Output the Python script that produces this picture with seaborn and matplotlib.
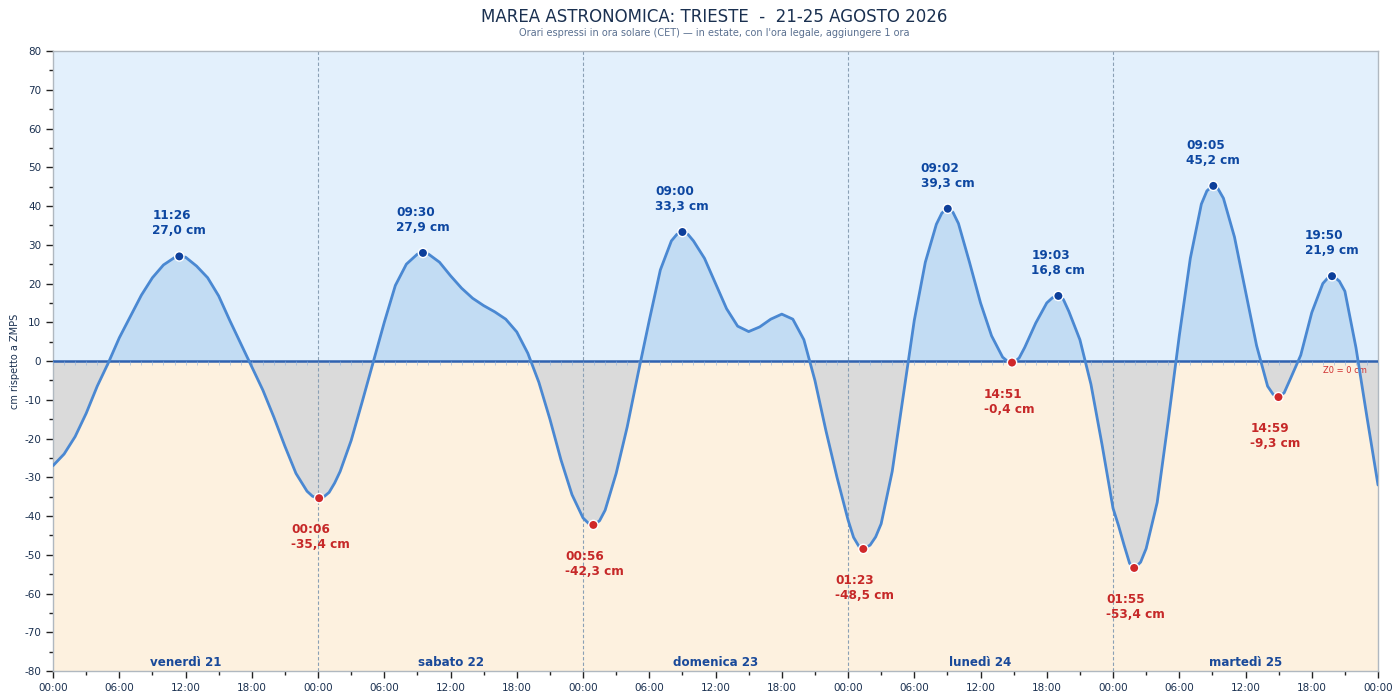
import numpy as np
import pandas as pd
import matplotlib
matplotlib.use("Agg")
import matplotlib.pyplot as plt
from matplotlib.ticker import MultipleLocator, FuncFormatter
import seaborn as sns

sns.set_style("ticks")
plt.rcParams["font.family"] = ["DejaVu Sans"]

# hourly water level (cm), hours 0..120
hourly_level = [
    -27.0, -24.0, -19.5, -13.5, -6.5, -0.5, 6.0, 11.5, 17.0, 21.5, 24.8, 26.7,
    26.8, 24.5, 21.5, 16.8, 10.5, 4.5, -1.5, -7.5, -14.5, -22.0, -29.0, -33.6,
    -35.4, -33.9, -28.5, -20.5, -10.5, -0.2, 10.0, 19.5, 25.0, 27.6, 27.6, 25.5,
    22.0, 18.8, 16.2, 14.3, 12.7, 10.8, 7.5, 2.0, -5.5, -15.0, -25.5, -34.5,
    -40.5, -42.3, -38.5, -29.0, -17.0, -3.0, 10.5, 23.5, 31.0, 33.3, 31.0, 26.5,
    20.0, 13.5, 9.0, 7.6, 8.8, 10.8, 12.1, 10.8, 5.5, -5.0, -18.0, -30.0,
    -41.0, -47.9, -47.5, -42.0, -28.5, -9.0, 10.5, 25.5, 35.3, 39.3, 35.5, 25.5,
    15.0, 6.5, 1.0, -0.4, 3.5, 9.8, 15.0, 16.8, 12.8, 5.5, -6.0, -21.5,
    -38.0, -47.5, -53.3, -48.4, -36.5, -15.5, 6.5, 26.5, 40.5, 45.2, 42.0, 32.0,
    18.0, 4.0, -6.5, -9.3, -5.0, 1.5, 12.5, 20.0, 21.8, 18.0, 3.5, -14.5,
    -32.0,
]
hourly_time = list(range(len(hourly_level)))

# extra readings around the sharper turns
extra_time = [23.5, 24.5, 25.5, 48.5, 49.5, 56.5, 57.5, 72.5, 74.5, 80.5, 81.5,
              86.5, 87.5, 90.5, 91.5, 96.5, 97.5, 98.5, 104.5, 105.5, 110.5,
              111.5, 115.5, 116.5]
extra_level = [-34.9, -35.1, -31.5, -41.9, -41.2, 32.7, 32.7, -45.5, -45.4, 38.2,
               38.4, -0.2, 0.8, 16.3, 15.9, -42.5, -52.2, -51.9, 43.9, 44.5,
               -8.6, -8.2, 21.6, 20.6]

# high / low tides
ext_day = [0, 1, 1, 2, 2, 3, 3, 3, 3, 4, 4, 4, 4]
ext_clock = ["11:26", "00:06", "09:30", "00:56", "09:00", "01:23", "09:02",
             "14:51", "19:03", "01:55", "09:05", "14:59", "19:50"]
ext_level = [27.0, -35.4, 27.9, -42.3, 33.3, -48.5, 39.3, -0.4, 16.8, -53.4,
             45.2, -9.3, 21.9]
ext_kind = ["max", "min", "max", "min", "max", "min", "max", "min", "max",
            "min", "max", "min", "max"]

day_names = ["venerdì 21", "sabato 22", "domenica 23", "lunedì 24", "martedì 25"]

ext = pd.DataFrame({"day": ext_day, "clock": ext_clock, "level": ext_level, "kind": ext_kind})
ext["t"] = ext["day"] * 24 + ext["clock"].str[:2].astype(int) + ext["clock"].str[3:].astype(int) / 60

curve = pd.concat([
    pd.DataFrame({"t": hourly_time, "level": hourly_level}),
    pd.DataFrame({"t": extra_time, "level": extra_level}),
    ext[["t", "level"]],
]).sort_values("t").reset_index(drop=True)

fig = plt.figure(figsize=(14, 7), dpi=100)
ax = fig.add_axes([0.0379, 0.0414, 0.9464, 0.8857])

ax.axhspan(0, 80, color="#e3f0fc", zorder=0)
ax.axhspan(-80, 0, color="#fdf1df", zorder=0)

x = curve["t"].to_numpy()
y = curve["level"].to_numpy()
ax.fill_between(x, y, 0, where=y >= 0, interpolate=True, color="#c2dcf3", lw=0, zorder=1)
ax.fill_between(x, y, 0, where=y <= 0, interpolate=True, color="#dadada", lw=0, zorder=1)

for d in range(1, 5):
    ax.axvline(d * 24, color="#8aa0b5", lw=0.8, ls=(0, (3, 2)), zorder=2)

ax.axhline(0, color="#2f62b0", lw=1.8, zorder=3)
ax.scatter(hourly_time, [-0.6] * len(hourly_time), marker="|", s=5, color="#8fb2de",
           lw=0.6, alpha=0.7, zorder=3)

sns.lineplot(data=curve, x="t", y="level", estimator=None, sort=True,
             color="#4a88d2", lw=2, ax=ax, zorder=4)

pal = {"max": "#0d3f9a", "min": "#d0282a"}
sns.scatterplot(data=ext, x="t", y="level", hue="kind", palette=pal, s=45,
                edgecolor="white", linewidth=1, legend=False, ax=ax, zorder=5)

for _, r in ext.iterrows():
    txt = f"{r['clock']}\n{r['level']:.1f} cm".replace(".", ",")
    if r["kind"] == "max":
        ax.annotate(txt, (r["t"], r["level"]), xytext=(-27, 19), textcoords="offset pixels",
                    ha="left", va="bottom", color="#0d47a1", fontsize=8.7,
                    fontweight="bold", linespacing=1.2)
    else:
        ax.annotate(txt, (r["t"], r["level"]), xytext=(-28, -25), textcoords="offset pixels",
                    ha="left", va="top", color="#c62828", fontsize=8.7,
                    fontweight="bold", linespacing=1.2)

for i, name in enumerate(day_names):
    ax.text(i * 24 + 12, -79.6, name, ha="center", va="bottom", color="#1a4a9a",
            fontsize=8.6, fontweight="bold")

ax.text(119, -1.2, "Z0 = 0 cm", ha="right", va="top", color="#d03030", fontsize=6)

ax.set_xlim(0, 120)
ax.set_ylim(-80, 80)
ax.xaxis.set_major_locator(MultipleLocator(6))
ax.xaxis.set_minor_locator(MultipleLocator(3))
ax.xaxis.set_major_formatter(FuncFormatter(lambda v, p: f"{int(v) % 24:02d}:00"))
ax.yaxis.set_major_locator(MultipleLocator(10))
ax.yaxis.set_minor_locator(MultipleLocator(5))
ax.yaxis.set_major_formatter(FuncFormatter(lambda v, p: f"{int(round(v))}"))
ax.tick_params(axis="both", which="major", labelsize=7.5, labelcolor="#1a3050",
               color="#222222", length=5, width=1)
ax.tick_params(axis="both", which="minor", color="#222222", length=3, width=1)
ax.set_xlabel("")
ax.set_ylabel("cm rispetto a ZMPS", fontsize=7, color="#1a3050")
ax.yaxis.set_label_coords(-0.025, 0.5)
for s in ax.spines.values():
    s.set_color("#b0b8c0")
    s.set_linewidth(1)

fig.text(0.51, 0.975, "MAREA ASTRONOMICA: TRIESTE  -  21-25 AGOSTO 2026",
         ha="center", va="center", fontsize=12, color="#1a3050")
fig.text(0.51, 0.953, "Orari espressi in ora solare (CET) — in estate, con l'ora legale, aggiungere 1 ora",
         ha="center", va="center", fontsize=7, color="#5a7090")

fig.savefig("out.png", dpi=100)
